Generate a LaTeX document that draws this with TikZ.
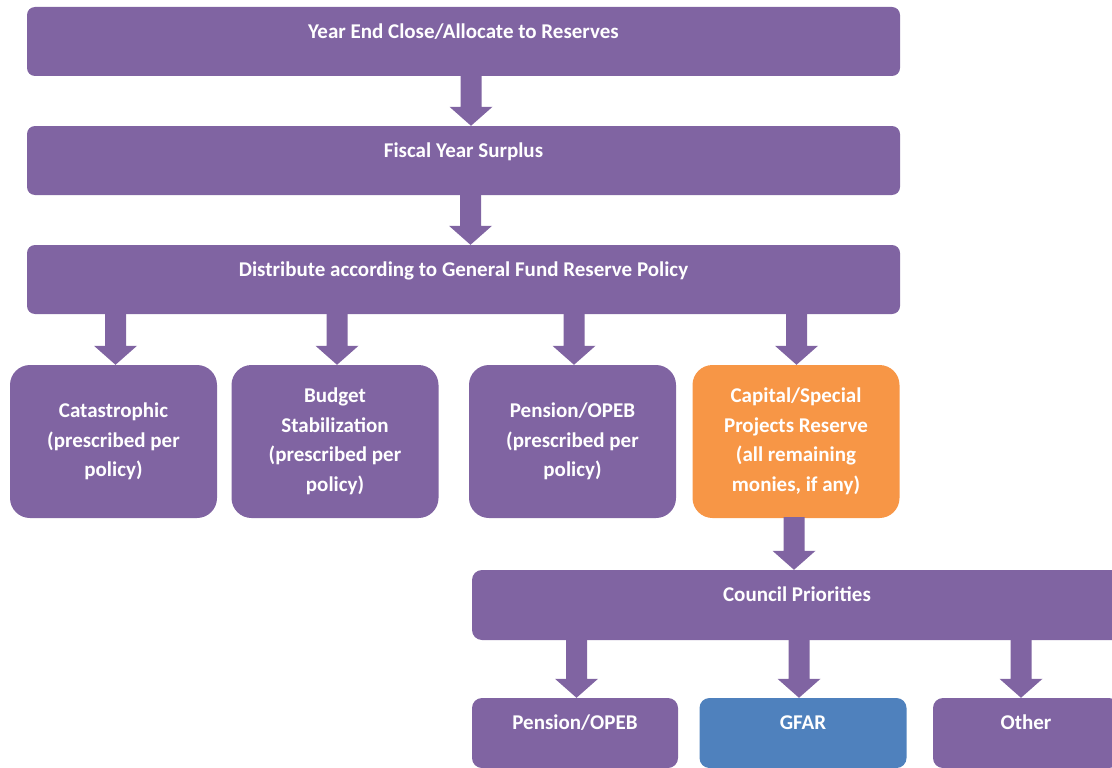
\documentclass[tikz,border=0pt]{standalone}
\usepackage{fontspec}
\setmainfont{Carlito}
\usetikzlibrary{calc}
\definecolor{fundpurple}{HTML}{8064A2}
\definecolor{fundorange}{HTML}{F79646}
\definecolor{fundblue}{HTML}{4F81BD}

\begin{document}
\begin{tikzpicture}[x=1pt, y=-1pt,
    box/.style={fill=fundpurple, text=white, inner sep=0pt, align=center,
      font=\bfseries\fontsize{21}{29.5}\selectfont},
    bar/.style={box, rounded corners=8pt, minimum width=873pt, text height=31.5pt, text depth=37.5pt},
    tallbox/.style={box, rounded corners=20pt, minimum width=207pt, minimum height=153pt},
    lowbox/.style={box, rounded corners=10pt, minimum width=207pt, text height=31.5pt, text depth=38.5pt},
    blockarrow/.style={fill=fundpurple}]
    \useasboundingbox (0,0) rectangle (1112,768);

    % Year end chain (full width bars)
    \node[bar] (close) at (463.5,41.5) {Year End Close/Allocate to Reserves};
    \node[bar] (surplus) at (463.5,160.5) {Fiscal Year Surplus};
    \node[bar] (distribute) at (463.5,279.5) {Distribute according to General Fund Reserve Policy};

    % Reserves
    \node[tallbox] (catastrophic) at (113.5,441.5) {Catastrophic\\(prescribed per\\policy)};
    \node[tallbox] (budget) at (335,441.5) {Budget\\Stabilization\\(prescribed per\\policy)};
    \node[tallbox] (pension) at (572.5,441.5) {Pension/OPEB\\(prescribed per\\policy)};
    \node[tallbox, fill=fundorange] (capital) at (796,441.5) {Capital/Special\\Projects Reserve\\(all remaining\\monies, if any)};

    % Council priorities (runs off the right edge)
    \node[lowbox, minimum width=650pt] (council) at (797,605) {Council Priorities};
    \node[lowbox, minimum width=206pt] (pensionb) at (575,733) {Pension/OPEB};
    \node[lowbox, fill=fundblue] (gfar) at (803,733) {GFAR};
    \node[lowbox, minimum width=186pt] (other) at (1026,733) {Other};

    % Block arrows: source/target/offset of the tip from the target centre
    \foreach \s/\t/\d in {close/surplus/7.5, surplus/distribute/7,
        distribute/catastrophic/2, distribute/budget/2, distribute/pension/1.5,
        distribute/capital/0.5, capital/council/-3,
        council/pensionb/1.5, council/gfar/-4, council/other/-5} {
      \coordinate (tip) at ($(\t.north)+(\d,0)$);
      \coordinate (tail) at (\s.south -| tip);
      \fill[blockarrow] (tip) -- ++(-21.5,-19) -- ++(11,0) |- ($(tail)+(10.5,-1)$)
        |- ($(tip)+(21.5,-19)$) -- cycle;
    }
\end{tikzpicture}
\end{document}
